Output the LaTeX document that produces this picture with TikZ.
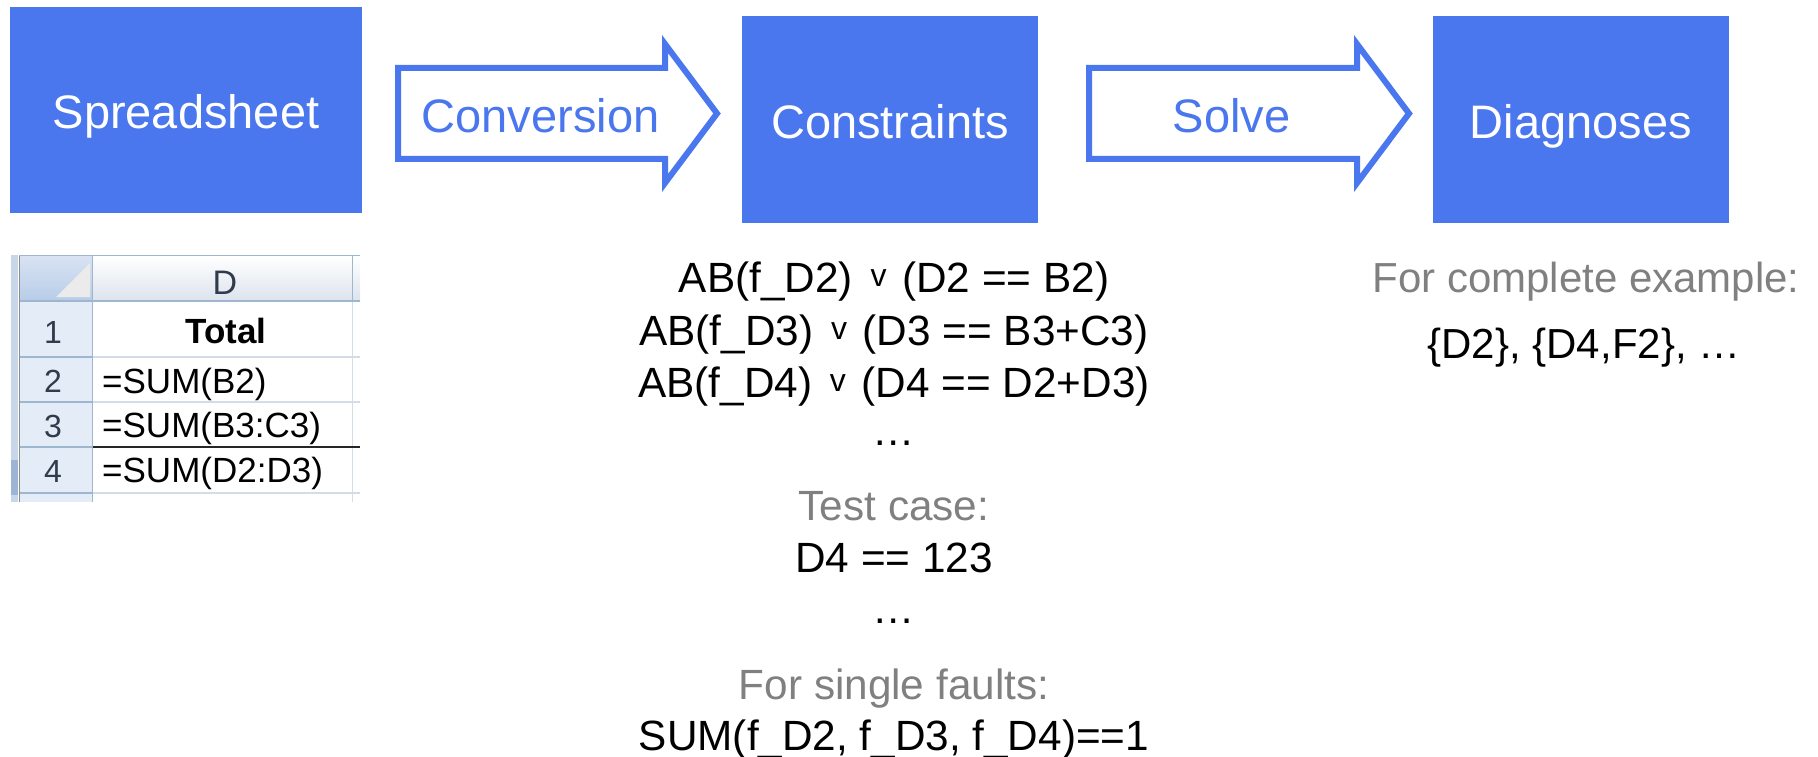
\documentclass[tikz,border=0pt]{standalone}
\usepackage{fontspec}
\setmainfont{Liberation Sans}
\definecolor{boxblue}{RGB}{74,118,238}
\definecolor{notegray}{RGB}{128,128,128}
\definecolor{hdrline}{RGB}{158,182,206}
\definecolor{gridline}{RGB}{212,220,232}
\definecolor{rowhdr}{RGB}{228,236,247}
\definecolor{cornerfill}{RGB}{184,204,232}
\definecolor{hdrtext}{RGB}{48,60,76}
\definecolor{paneedge}{RGB}{200,214,234}
\definecolor{paneedgedark}{RGB}{157,181,213}
\newcommand\setfs[1]{\fontsize{#1}{#1}\selectfont}
% small raised "or" sign between the two disjuncts
\newcommand\orsym{\hspace{6pt}\raisebox{5.5pt}{\setfs{32}v}\hspace{4pt}}
\begin{document}
\begin{tikzpicture}[x=1pt,y=-1pt,
  bluebox/.style={fill=boxblue,text=white,font=\setfs{47},inner sep=0pt,
    minimum width=296pt,minimum height=207pt,text height=38pt,text depth=0pt},
  blockarrow/.style={draw=boxblue,line width=6pt,fill=white,line join=miter,miter limit=10},
  arrowlabel/.style={text=boxblue,font=\setfs{47},anchor=base,inner sep=0pt},
  formula/.style={font=\setfs{42.3},anchor=base,inner sep=0pt},
  note/.style={formula,text=notegray},
  hdrrule/.style={draw=hdrline,line width=1.3pt},
  gridrule/.style={draw=gridline,line width=1.3pt},
  rownum/.style={font=\setfs{32},text=hdrtext,anchor=base,inner sep=0pt},
  celltext/.style={font=\setfs{35},anchor=base west,inner sep=0pt}
]
\useasboundingbox (0,0) rectangle (1818,757);

% three stages
\node[bluebox,minimum width=352pt,minimum height=206pt] (sheet) at (186,110) {Spreadsheet};
\node[bluebox] (cons) at (890,119.5) {Constraints};
\node[bluebox] (diag) at (1581,119.5) {Diagnoses};

% block arrows between the stages
\draw[blockarrow] (398,68) -- (665,68) -- (665,44) -- (717,113.5) -- (665,183) -- (665,159) -- (398,159) -- cycle;
\node[arrowlabel] (convlbl) at (540.5,132) {Conversion};
\draw[blockarrow] (1089,68) -- (1357,68) -- (1357,44) -- (1409,113.5) -- (1357,183) -- (1357,159) -- (1089,159) -- cycle;
\node[arrowlabel] (solvelbl) at (1231.5,132) {Solve};

% worksheet excerpt
\fill[paneedge] (11,255) rectangle (18,502);
\fill[paneedgedark] (11,460) rectangle (18,495);
\draw[draw=black!45,line width=1.5pt] (19.5,255) -- (19.5,502);
\fill[top color=cornerfill!55,bottom color=cornerfill] (20,256) rectangle (92,301);
\fill[black!8] (90,263) -- (90,297) -- (56,297) -- cycle;
\fill[top color=white,bottom color=gridline!80] (93,256) rectangle (360,301);
\fill[rowhdr] (20,302) rectangle (92,502);
\draw[hdrrule] (19,255.5) -- (360,255.5);
\draw[hdrrule] (20,301) -- (360,301);
\draw[hdrrule] (92.5,255) -- (92.5,502);
\draw[hdrrule] (352.5,256) -- (352.5,301);
\foreach \yy in {357,402,447,493} \draw[hdrrule] (20,\yy) -- (92,\yy);
\foreach \yy in {357,402,493} \draw[gridrule] (93,\yy) -- (360,\yy);
\draw[gridrule] (352.5,302) -- (352.5,502);
\draw[black!85,line width=1.5pt] (93,447) -- (360,447);

\node[rownum,font=\setfs{34}] (colD) at (225,294) {D};
\node[rownum] (r1) at (53,343) {1};
\node[rownum] (r2) at (53,392) {2};
\node[rownum] (r3) at (53,437) {3};
\node[rownum] (r4) at (53,482) {4};
\node[font=\setfs{35}\bfseries,anchor=base,inner sep=0pt] (total) at (226,343) {Total};
\node[celltext] (d2) at (102,393) {=SUM(B2)};
\node[celltext] (d3) at (102,437) {=SUM(B3:C3)};
\node[celltext] (d4) at (102,482) {=SUM(D2:D3)};

% constraint model
\node[formula] (c1) at (894,292) {AB(f\_D2) \orsym{} (D2 == B2)};
\node[formula] (c2) at (894,345) {AB(f\_D3) \orsym{} (D3 == B3+C3)};
\node[formula] (c3) at (894,397) {AB(f\_D4) \orsym{} (D4 == D2+D3)};
\node[formula] (c4) at (894,445) {…};
\node[note] (tclbl) at (894,520) {Test case:};
\node[formula] (tc) at (894,572) {D4 == 123};
\node[formula] (tc2) at (894,623) {…};
\node[note] (sflbl) at (894,699) {For single faults:};
\node[formula] (sf) at (894,750) {SUM(f\_D2, f\_D3, f\_D4)==1};

% diagnoses
\node[note,font=\setfs{42}] (exlbl) at (1586,292) {For complete example:};
\node[formula,font=\setfs{42}] (dg) at (1584,358) {\{D2\}, \{D4,F2\}, …};
\end{tikzpicture}
\end{document}
